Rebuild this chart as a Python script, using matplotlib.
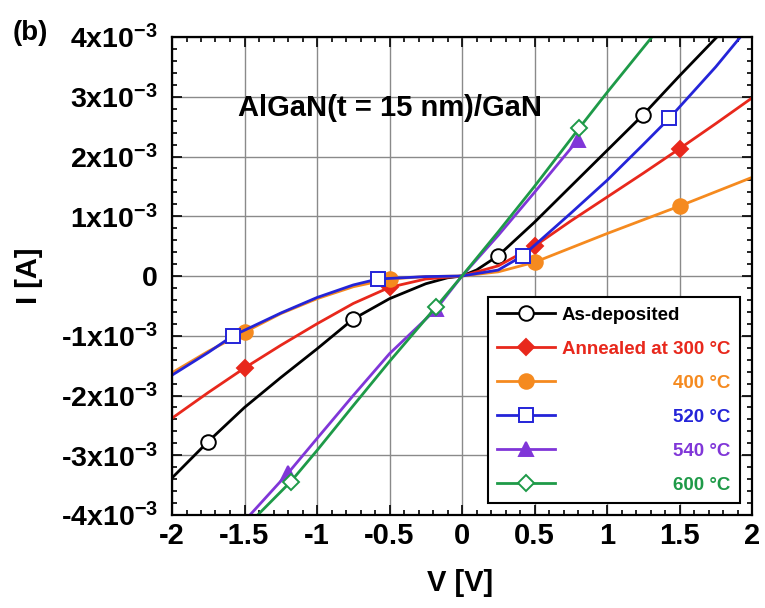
import numpy as np
import matplotlib
matplotlib.use("Agg")
import matplotlib.pyplot as plt
from matplotlib.ticker import MultipleLocator, FuncFormatter
from matplotlib.transforms import Affine2D

plt.rcParams['font.family'] = ['Liberation Sans', 'DejaVu Sans']
plt.rcParams['font.weight'] = 'bold'
plt.rcParams['axes.labelweight'] = 'bold'
plt.rcParams['mathtext.fontset'] = 'custom'
plt.rcParams['mathtext.rm'] = 'Liberation Sans:bold'
plt.rcParams['mathtext.it'] = 'Liberation Sans:bold'
plt.rcParams['mathtext.bf'] = 'Liberation Sans:bold'
plt.rcParams['mathtext.default'] = 'rm'

# data (V in volts, I in mA -> converted to A below)
v_asdep = [-2.0, -1.75, -1.5, -1.25, -1.0, -0.75, -0.5, -0.25, -0.1, 0.0, 0.1, 0.25, 0.5, 0.75, 1.0, 1.25, 1.5, 1.75, 1.8]
i_asdep = [-3.38, -2.77, -2.2, -1.7, -1.22, -0.72, -0.38, -0.13, -0.03, 0.0, 0.1, 0.34, 0.9, 1.5, 2.1, 2.7, 3.35, 3.98, 4.1]
m_asdep = [1, 5, 11, 15]

v_300 = [-2.0, -1.75, -1.5, -1.25, -1.0, -0.75, -0.5, -0.25, 0.0, 0.25, 0.5, 0.75, 1.0, 1.25, 1.5, 1.75, 2.0]
i_300 = [-2.38, -1.95, -1.54, -1.16, -0.8, -0.46, -0.19, -0.05, 0.0, 0.17, 0.5, 0.92, 1.32, 1.72, 2.13, 2.55, 2.98]
m_300 = [2, 6, 10, 14]

v_400 = [-2.0, -1.75, -1.5, -1.25, -1.0, -0.75, -0.5, -0.25, 0.0, 0.25, 0.5, 0.75, 1.0, 1.25, 1.5, 1.75, 2.0]
i_400 = [-1.62, -1.26, -0.94, -0.63, -0.38, -0.18, -0.05, -0.01, 0.0, 0.07, 0.23, 0.47, 0.71, 0.94, 1.17, 1.41, 1.65]
m_400 = [2, 6, 10, 14]

v_520 = [-2.0, -1.75, -1.58, -1.25, -1.0, -0.75, -0.58, -0.25, 0.0, 0.25, 0.42, 0.75, 1.0, 1.25, 1.43, 1.75, 1.92]
i_520 = [-1.66, -1.28, -1.0, -0.62, -0.36, -0.15, -0.05, -0.01, 0.0, 0.1, 0.34, 1.05, 1.6, 2.2, 2.64, 3.5, 4.0]
m_520 = [2, 6, 10, 14]

v_540 = [-1.5, -1.2, -1.0, -0.75, -0.5, -0.18, 0.0, 0.25, 0.5, 0.8]
i_540 = [-4.1, -3.3, -2.72, -2.0, -1.3, -0.56, 0.0, 0.68, 1.4, 2.28]
m_540 = [1, 5, 9]

v_600 = [-1.45, -1.18, -1.0, -0.75, -0.5, -0.18, 0.0, 0.25, 0.5, 0.81, 1.0, 1.35]
i_600 = [-4.1, -3.44, -2.92, -2.17, -1.43, -0.52, 0.0, 0.74, 1.5, 2.48, 3.07, 4.12]
m_600 = [1, 5, 9]

labels = ['As-deposited', 'Annealed at 300 °C', '400 °C', '520 °C', '540 °C', '600 °C']
colors = ['black', '#e8281c', '#f58a1f', '#2424d8', '#8036d8', '#1e9a48']

fig = plt.figure(figsize=(7.65, 6.08), dpi=100)
ax = fig.add_axes([172/765, 1-515/608, 580/765, 478/608])

series = [(v_asdep, i_asdep, m_asdep, 'o', 'white', 10.5),
          (v_300, i_300, m_300, 'D', colors[1], 8.5),
          (v_400, i_400, m_400, 'o', colors[2], 10.5),
          (v_520, i_520, m_520, 's', 'white', 10.5),
          (v_540, i_540, m_540, '^', colors[4], 10),
          (v_600, i_600, m_600, 'D', 'white', 8.5)]

for k, (v, i, m, mk, fc, ms) in enumerate(series):
    ax.plot(v, np.array(i) * 1e-3, color=colors[k], lw=2.0, marker=mk, markevery=m,
            ms=ms, mfc=fc, mec=colors[k], mew=1.4, label=labels[k])

ax.set_xlim(-2, 2)
ax.set_ylim(-4e-3, 4e-3)
ax.xaxis.set_major_locator(MultipleLocator(0.5))
ax.xaxis.set_minor_locator(MultipleLocator(0.1))
ax.yaxis.set_major_locator(MultipleLocator(1e-3))
ax.yaxis.set_minor_locator(MultipleLocator(2e-4))

def yfmt(val, pos):
    n = int(round(val * 1e3))
    if n == 0:
        return '0'
    return '%dx10$^{-3}$' % n

ax.yaxis.set_major_formatter(FuncFormatter(yfmt))
ax.xaxis.set_major_formatter(FuncFormatter(lambda v, p: '%g' % v))
ax.grid(True, which='major', color='#8a8a8a', lw=1.0)
ax.set_axisbelow(True)
ax.tick_params(which='both', direction='in', top=True, right=True, width=1.2)
ax.tick_params(which='major', length=7)
ax.tick_params(which='minor', length=3.5)
ax.tick_params(axis='x', labelsize=21, pad=5)
ax.tick_params(axis='y', labelsize=20.5, pad=10)
for s in ax.spines.values():
    s.set_linewidth(1.6)

ax.set_xlabel('V [V]', fontsize=21)
ax.xaxis.set_label_coords(0.497, -0.112)
ax.set_ylabel('I [A]', fontsize=21)
ax.yaxis.set_label_coords(-0.222, 0.5)

ax.text(-0.5, 2.81e-3, 'AlGaN(t = 15 nm)/GaN', fontsize=21, ha='center', va='center')
fig.text(0.017, 1 - 33/608, '(b)', fontsize=20, va='center')

leg = ax.legend(loc='lower right', bbox_to_anchor=(0.979, 0.025), borderaxespad=0,
                fontsize=13.5, handlelength=3.1, handletextpad=0.35, labelspacing=0.9,
                borderpad=0.5, fancybox=False, framealpha=1, edgecolor='black')
leg.get_frame().set_linewidth(1.5)
for t, c in zip(leg.get_texts(), colors):
    t.set_color(c)

# right-align the shorter legend labels to the longest one
fig.canvas.draw()
exts = [t.get_window_extent() for t in leg.get_texts()]
right = max(e.x1 for e in exts)
for t, e in zip(leg.get_texts()[2:], exts[2:]):
    t.set_transform(t.get_transform() + Affine2D().translate(right - e.x1, 0))

fig.savefig('out.png', dpi=100)
